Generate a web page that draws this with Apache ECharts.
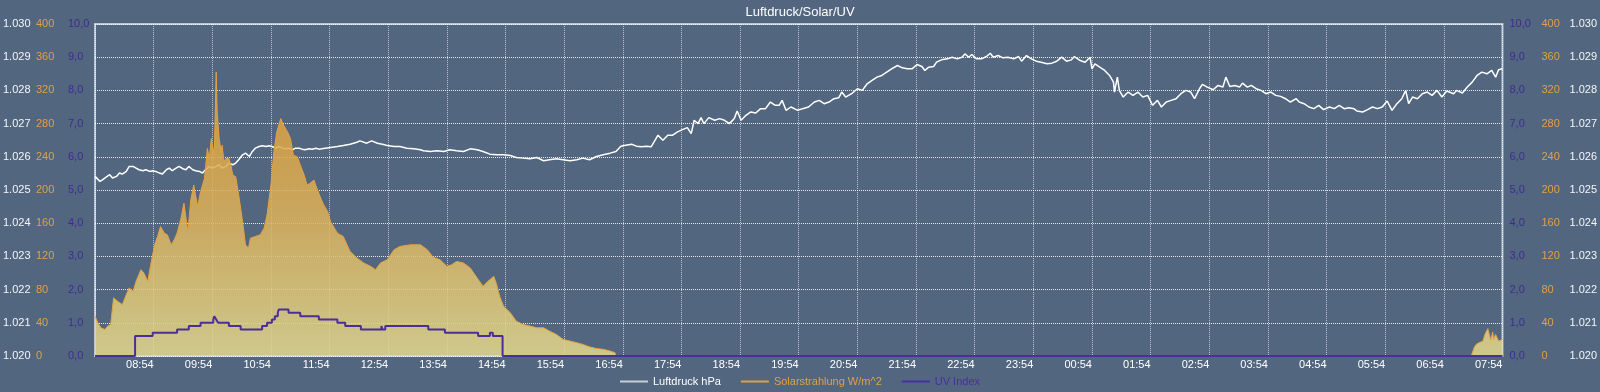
<!DOCTYPE html>
<html><head><meta charset="utf-8">
<script src="https://cdn.jsdelivr.net/npm/echarts@6/dist/echarts.min.js"></script>
<style>html,body{margin:0;padding:0;background:#526680}#c{width:1600px;height:392px}</style>
</head><body><div id="c"></div>
<script>
// x axis: minutes after 07:54 (24 h window)
const timeLabels = ['', '08:54','09:54','10:54','11:54','12:54','13:54','14:54','15:54','16:54','17:54','18:54','19:54','20:54','21:54','22:54','23:54','00:54','01:54','02:54','03:54','04:54','05:54','06:54','07:54'];
const pressureTicks = ['1.020','1.021','1.022','1.023','1.024','1.025','1.026','1.027','1.028','1.029','1.030'];
const solarTicks = ['0','40','80','120','160','200','240','280','320','360','400'];
const uvTicks = ['0,0','1,0','2,0','3,0','4,0','5,0','6,0','7,0','8,0','9,0','10,0'];

// Luftdruck hPa  [minute, value]
const pressure = [
[0,1025.41],[5,1025.26],[8,1025.31],[11,1025.38],[15,1025.46],[18,1025.36],[22,1025.41],[25,1025.51],[28,1025.48],[32,1025.56],[35,1025.71],[39,1025.71],[42,1025.66],[45,1025.61],[49,1025.58],[52,1025.61],[56,1025.56],[59,1025.58],[62,1025.56],[66,1025.51],[69,1025.48],[73,1025.61],[76,1025.66],[79,1025.58],[83,1025.66],[86,1025.71],[90,1025.64],[93,1025.61],[96,1025.71],[100,1025.61],[103,1025.58],[107,1025.56],[110,1025.51],[113,1025.61],[117,1025.71],[120,1025.66],[124,1025.71],[127,1025.76],[130,1025.66],[134,1025.71],[137,1025.81],[141,1025.76],[144,1025.81],[147,1025.91],[151,1026.06],[154,1026.11],[158,1026.01],[161,1026.16],[164,1026.26],[168,1026.31],[171,1026.33],[175,1026.31],[178,1026.33],[181,1026.31],[185,1026.26],[188,1026.31],[192,1026.26],[195,1026.24],[198,1026.26],[202,1026.21],[205,1026.26],[209,1026.26],[212,1026.23],[215,1026.21],[219,1026.24],[222,1026.23],[226,1026.26],[229,1026.23],[232,1026.24],
[241,1026.28],[248,1026.31],[254,1026.34],[261,1026.38],[268,1026.44],[271,1026.48],[278,1026.41],[283,1026.48],[289,1026.41],[294,1026.38],[299,1026.34],[306,1026.31],[312,1026.31],[319,1026.26],[326,1026.24],[333,1026.21],[336,1026.18],[343,1026.16],[350,1026.18],[357,1026.16],[363,1026.21],[370,1026.18],[377,1026.16],[384,1026.24],[391,1026.21],[397,1026.16],[404,1026.08],[411,1026.06],[418,1026.06],[425,1026.04],[431,1025.98],[438,1025.96],[445,1025.94],[452,1025.98],[459,1025.88],[465,1025.91],[472,1025.94],[479,1025.91],[486,1025.88],[493,1025.91],[499,1025.96],[506,1025.91],[513,1026.01],[520,1026.06],[527,1026.11],[533,1026.16],
[538,1026.32],[543,1026.35],[549,1026.38],[554,1026.32],[559,1026.30],[564,1026.32],[569,1026.30],[572,1026.45],[576,1026.65],[581,1026.50],[586,1026.65],[591,1026.65],[596,1026.75],[601,1026.82],[606,1026.88],[610,1026.70],[613,1027.10],[617,1027.00],[620,1027.18],[623,1027.00],[628,1027.18],[634,1027.10],[639,1027.15],[644,1027.10],[649,1027.00],[654,1027.15],[657,1027.38],[661,1027.10],[666,1027.25],[671,1027.35],[676,1027.32],[681,1027.45],[686,1027.45],[691,1027.65],[696,1027.55],[700,1027.55],[703,1027.70],[707,1027.40],[712,1027.50],[719,1027.40],[724,1027.45],[730,1027.50],[736,1027.65],[741,1027.70],[746,1027.60],[751,1027.65],[756,1027.75],[761,1027.78],[764,1027.95],[768,1027.80],[771,1027.85],[775,1027.92],[780,1028.05],[785,1028.00],[790,1028.20],[795,1028.30],[800,1028.40],[805,1028.45],[810,1028.55],[815,1028.65],[821,1028.75],[826,1028.68],[831,1028.65],
[836,1028.65],[841,1028.78],[846,1028.72],[849,1028.60],[853,1028.70],[858,1028.72],[861,1028.85],[866,1028.92],[872,1028.95],[877,1029.00],[882,1028.95],[887,1029.00],[890,1029.10],[894,1029.00],[897,1029.08],[902,1028.95],[907,1028.95],[912,1029.02],[916,1029.12],[919,1029.00],[924,1029.05],[929,1028.98],[934,1029.00],[940,1028.95],[945,1029.02],[948,1028.88],[953,1029.05],[958,1028.95],[963,1028.88],[968,1028.85],[974,1028.80],[979,1028.82],[984,1028.88],[989,1029.00],[994,1028.88],[999,1028.92],[1002,1029.02],[1008,1028.90],[1013,1028.85],[1018,1029.00],[1020,1028.65],[1023,1028.80],[1028,1028.70],[1033,1028.60],[1038,1028.45],[1042,1028.25],[1043,1027.95],[1046,1028.40],[1048,1028.00],[1052,1027.80],[1057,1027.95],[1062,1027.85],[1067,1027.95],[1072,1027.80],[1077,1027.85],[1082,1027.55],[1087,1027.70],[1091,1027.50],[1096,1027.65],[1101,1027.70],[1106,1027.75],[1111,1027.90],[1116,1028.00],[1121,1027.95],[1125,1027.75],[1130,1028.05],
[1133,1028.18],[1138,1028.10],[1144,1028.02],[1149,1028.15],[1154,1028.10],[1157,1028.40],[1161,1028.12],[1166,1028.15],[1171,1028.10],[1174,1028.22],[1179,1028.10],[1183,1028.15],[1188,1028.05],[1193,1028.00],[1198,1027.90],[1203,1027.95],[1208,1027.85],[1213,1027.82],[1218,1027.75],[1223,1027.65],[1229,1027.75],[1232,1027.65],[1237,1027.60],[1242,1027.50],[1247,1027.45],[1252,1027.55],[1257,1027.42],[1263,1027.50],[1268,1027.45],[1273,1027.55],[1278,1027.45],[1283,1027.48],[1288,1027.45],[1291,1027.38],[1297,1027.35],[1302,1027.42],[1307,1027.50],[1312,1027.45],[1317,1027.50],[1322,1027.68],[1327,1027.40],[1332,1027.60],[1337,1027.75],[1341,1028.00],[1344,1027.60],[1348,1027.80],[1353,1027.75],[1358,1027.90],[1363,1027.95],[1368,1027.85],[1373,1028.00],[1378,1027.80],[1383,1027.98],[1390,1027.90],[1393,1028.00],[1399,1027.92],[1404,1028.10],[1409,1028.25],[1414,1028.45],[1419,1028.55],[1424,1028.50],[1429,1028.60],[1433,1028.40],[1436,1028.62],[1440,1028.65]
];

// Solarstrahlung W/m^2  [minute, value]
const solar = [
[0,48],[3,40],[6,34],[10,32],[13,36],[16,38],[19,70],[23,66],[28,62],[32,74],[35,82],[39,78],[42,90],[47,104],[50,100],[54,90],[57,110],[61,134],[64,144],[67,156],[71,148],[74,146],[78,134],[81,140],[84,148],[88,166],[91,184],[95,150],[98,188],[101,206],[105,180],[108,198],[112,214],[115,250],[117,238],[119,262],[122,242],[124,342],[125,294],[127,262],[129,246],[130,254],[132,234],[134,238],[137,238],[139,230],[141,218],[144,216],[147,194],[151,162],[154,134],[157,130],[159,142],[164,144],[169,146],[173,154],[176,170],[180,206],[183,246],[186,270],[190,286],[193,278],[197,270],[200,262],[203,242],[207,240],[210,230],[214,218],[217,206],[220,208],[224,212],[227,202],[231,190],[234,182],[238,174],
[241,162],[248,148],[254,144],[261,126],[268,118],[275,112],[282,108],[287,104],[292,112],[299,116],[306,128],[312,132],[323,134],[333,134],[340,128],[346,119],[353,116],[360,108],[365,110],[370,114],[377,112],[384,106],[391,94],[397,84],[402,90],[408,96],[411,86],[414,72],[418,60],[425,52],[431,42],[438,38],[445,36],[452,34],[459,34],[465,30],[472,26],[479,20],[486,18],[493,16],[499,14],[506,11],[513,9],[520,8],[527,6],[532,4],[533,0],
[1408,0],[1409,2],[1411,10],[1413,14],[1416,16],[1420,18],[1422,26],[1425,33],[1427,24],[1428,19],[1430,29],[1431,20],[1433,26],[1436,18],[1440,20]
];

// UV Index  [minute, value] (stepped)
const uv = [
[0,0],[41,0.6],[59,0.7],[84,0.8],[96,0.9],[108,1.0],[121,1.1],[122,1.2],[124,1.1],[126,1.0],[137,0.9],[149,0.8],[171,0.9],[176,1.0],[181,1.1],[184,1.2],[187,1.3],[188,1.4],[198,1.3],[210,1.2],[229,1.1],[248,1.0],[256,0.9],[272,0.8],[293,0.9],[294,0.8],[297,0.9],[341,0.8],[358,0.7],[392,0.6],[404,0.7],[407,0.6],[417,0],[1440,0]
];

const WHITE = '#f4f6f8', ORANGE = '#dfa047', PURPLE = '#3f2c8f';
const FONT = 'Liberation Sans, Arial, sans-serif';

function yAx(pos, min, max, interval, ticks, color, margin, split) {
  return {
    type: 'value', position: pos, min: min, max: max, interval: interval,
    axisLine: { show: false }, axisTick: { show: false },
    splitLine: split ? { show: true, lineStyle: { color: 'rgba(255,255,255,0.85)', type: 'dotted', width: 1 } } : { show: false },
    axisLabel: {
      color: color, fontSize: 11, fontFamily: FONT, align: 'left', margin: margin,
      formatter: function (v) { return ticks[Math.round((v - min) / interval)]; }
    }
  };
}

const chart = echarts.init(document.getElementById('c'), null, { renderer: 'canvas' });
chart.setOption({
  backgroundColor: '#526680',
  animation: false,
  title: { text: 'Luftdruck/Solar/UV', left: 'center', top: 1, textStyle: { color: '#ffffff', fontSize: 13, fontWeight: 'normal', fontFamily: FONT } },
  legend: {
    top: 376, left: 'center', padding: 0, itemGap: 20, itemWidth: 28, itemHeight: 2, icon: 'rect',
    textStyle: { fontSize: 11, fontFamily: FONT },
    data: [
      { name: 'Luftdruck hPa', itemStyle: { color: '#c9ced8' }, textStyle: { color: '#ffffff' } },
      { name: 'Solarstrahlung W/m^2', itemStyle: { color: ORANGE }, textStyle: { color: ORANGE } },
      { name: 'UV Index', itemStyle: { color: '#4a2fa0' }, textStyle: { color: '#4a2fa0' } }
    ]
  },
  grid: { left: 95, right: 95, top: 24, bottom: 36, show: true, borderColor: '#bcc5d4', borderWidth: 2, backgroundColor: 'transparent' },
  xAxis: {
    type: 'value', min: 0, max: 1440, interval: 60,
    axisLine: { show: false }, axisTick: { show: false },
    splitLine: { show: true, lineStyle: { color: 'rgba(255,255,255,0.6)', type: 'dotted', width: 1 } },
    axisLabel: { color: '#ffffff', fontSize: 11, fontFamily: FONT, align: 'right', margin: 3,
      formatter: function (v) { return timeLabels[Math.round(v / 60)]; } }
  },
  yAxis: [
    yAx('left', 1020, 1030, 1, pressureTicks, WHITE, 92, true),
    yAx('left', 0, 400, 40, solarTicks, ORANGE, 59, false),
    yAx('left', 0, 10, 1, uvTicks, PURPLE, 27, false),
    yAx('right', 1020, 1030, 1, pressureTicks, WHITE, 67, false),
    yAx('right', 0, 400, 40, solarTicks, ORANGE, 39, false),
    yAx('right', 0, 10, 1, uvTicks, PURPLE, 7, false)
  ],
  series: [
    { name: 'Luftdruck hPa', type: 'line', yAxisIndex: 0, data: pressure, showSymbol: false, z: 2,
      lineStyle: { color: '#ffffff', width: 1.5 }, itemStyle: { color: '#c9ced8' } },
    { name: 'Solarstrahlung W/m^2', type: 'line', yAxisIndex: 1, data: solar, showSymbol: false, z: 3,
      lineStyle: { color: '#e3a23e', width: 1 }, itemStyle: { color: ORANGE },
      areaStyle: { opacity: 0.85, color: new echarts.graphic.LinearGradient(0, 0, 0, 1, [
        { offset: 0, color: 'rgb(226,158,52)' },
        { offset: 0.5, color: 'rgb(222,178,88)' },
        { offset: 1, color: 'rgb(228,218,142)' }]) } },
    { name: 'UV Index', type: 'line', yAxisIndex: 2, data: uv, showSymbol: false, step: 'end', z: 4,
      lineStyle: { color: '#4b2d9c', width: 2 }, itemStyle: { color: '#4a2fa0' } }
  ]
});
</script>
</body></html>
